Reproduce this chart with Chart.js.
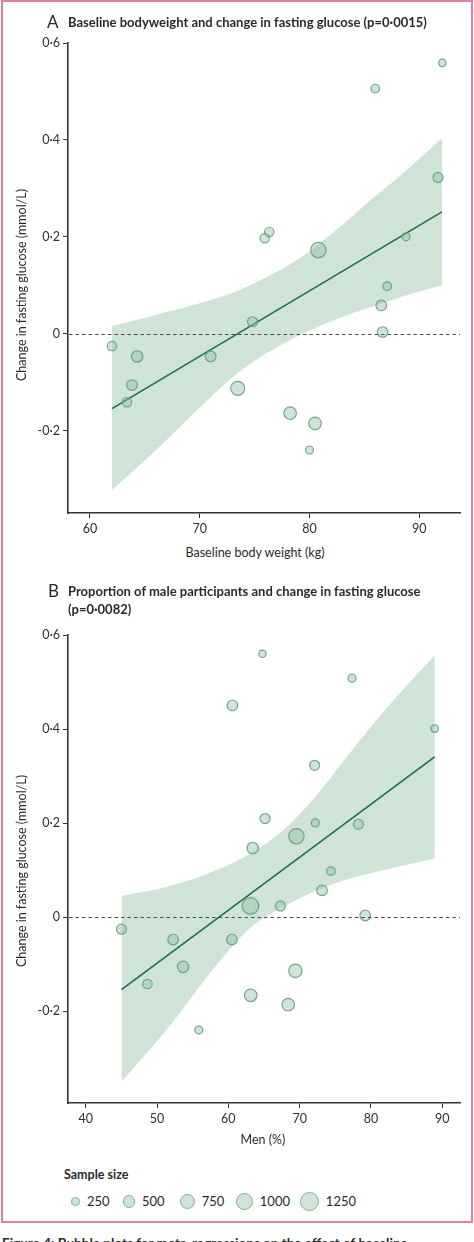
<!DOCTYPE html>
<html><head><meta charset="utf-8">
<script src="https://cdn.jsdelivr.net/npm/chart.js@4/dist/chart.umd.min.js"></script>
<style>
html,body{margin:0;padding:0;background:#fff;}
body{width:474px;height:1242px;position:relative;overflow:hidden;font-family:Lato,'Open Sans',sans-serif;color:#2a2a2a;}
#frame{position:absolute;left:1px;top:0;width:468px;height:1219px;border:2px solid #de7fa3;}
canvas{position:absolute;left:0;}
.t{position:absolute;white-space:nowrap;}
.letter{font-size:17px;font-weight:400;line-height:18px;}
.ttl{font-size:13px;font-weight:700;line-height:18px;}
.ax{font-size:12.5px;line-height:16px;width:300px;text-align:center;}
.rot{transform:rotate(-90deg);transform-origin:50% 50%;}
.lg{font-size:13px;line-height:16px;}
.dot{position:absolute;border-radius:50%;background:#cfe3d7;border:1.3px solid #7fb394;box-sizing:border-box;}
</style></head>
<body>
<div id="frame"></div>
<canvas id="cA" width="474" height="545" style="top:0"></canvas>
<canvas id="cB" width="474" height="555" style="top:580px"></canvas>

<div class="t letter" style="left:47px;top:13px">A</div>
<div class="t ttl" style="left:68px;top:13px">Baseline bodyweight and change in fasting glucose (p=0·0015)</div>
<div class="t ax rot" style="left:-128px;top:277px">Change in fasting glucose (mmol/L)</div>
<div class="t ax" style="left:105px;top:545px">Baseline body weight (kg)</div>

<div class="t letter" style="left:48px;top:582px">B</div>
<div class="t ttl" style="left:68px;top:582px">Proportion of male participants and change in fasting glucose<br>(p=0·0082)</div>
<div class="t ax rot" style="left:-128px;top:863px">Change in fasting glucose (mmol/L)</div>
<div class="t ax" style="left:113px;top:1132px">Men (%)</div>

<div class="t" style="left:64px;top:1167px;font-size:12.5px;font-weight:700;line-height:16px">Sample size</div>
<div id="legend"></div>

<div class="t" style="left:2px;top:1234px;font-size:13.5px;font-weight:700;line-height:18px">Figure 4: Bubble plots for meta-regressions on the effect of baseline</div>

<script>
// ---------- Panel A data ----------
const aWeight = [92.09, 85.98, 91.7, 76.32, 88.78, 75.92, 80.8, 87.07, 86.53, 74.8, 86.65, 62.0, 64.3, 71.0, 63.83, 63.37, 73.46, 78.23, 80.5, 79.99];
const aChange = [0.559, 0.506, 0.3225, 0.210, 0.200, 0.197, 0.1726, 0.098, 0.0585, 0.0247, 0.0035, -0.0254, -0.047, -0.047, -0.106, -0.1415, -0.1126, -0.164, -0.185, -0.240];
const aSize   = [190, 254, 343, 303, 220, 303, 812, 254, 385, 343, 385, 303, 445, 385, 385, 303, 672, 544, 544, 220];
const aFitX   = [62.0, 92.06];
const aFitY   = [-0.1546, 0.2516];
const aBandX  = [62.0, 64.5, 67.0, 70.0, 73.1, 76.1, 79.1, 82.2, 85.2, 88.3, 92.06];
const aBandHi = [0.016, 0.030, 0.045, 0.063, 0.085, 0.117, 0.156, 0.210, 0.269, 0.327, 0.403];
const aBandLo = [-0.322, -0.272, -0.219, -0.152, -0.088, -0.040, -0.003, 0.028, 0.052, 0.076, 0.100];
const aXTicks = [60, 70, 80, 90];

// ---------- Panel B data ----------
const bMen    = [64.78, 77.35, 60.57, 88.95, 72.1, 65.15, 72.2, 78.25, 69.55, 63.42, 74.4, 73.14, 63.1, 67.3, 79.2, 45.0, 52.25, 60.5, 53.65, 48.65, 69.4, 63.14, 68.4, 55.85];
const bChange = [0.560, 0.508, 0.4505, 0.401, 0.323, 0.2097, 0.2004, 0.1976, 0.172, 0.147, 0.098, 0.057, 0.024, 0.024, 0.0036, -0.0255, -0.0475, -0.0475, -0.1055, -0.142, -0.114, -0.166, -0.186, -0.240];
const bSize   = [188, 220, 385, 188, 343, 343, 220, 343, 812, 445, 254, 385, 945, 343, 385, 343, 385, 385, 445, 303, 615, 544, 544, 220];
const bFitX   = [45.0, 88.95];
const bFitY   = [-0.154, 0.341];
const bBandX  = [45.0, 51.3, 58.3, 63.0, 67.7, 72.35, 77.0, 81.7, 88.95];
const bBandHi = [0.045, 0.064, 0.100, 0.135, 0.185, 0.259, 0.348, 0.436, 0.557];
const bBandLo = [-0.350, -0.240, -0.102, -0.024, 0.022, 0.057, 0.082, 0.100, 0.125];
const bXTicks = [40, 50, 60, 70, 80, 90];

const yTicks = [0.6, 0.4, 0.2, 0, -0.2];
const legendSizes = [250, 500, 750, 1000, 1250];

const RK = 0.27; // px radius per sqrt(sample size)
const rad = n => RK * Math.sqrt(n);
const fmt = v => (v === 0 ? '0' : String(Math.round(v * 10) / 10).replace('.', '·'));

Chart.defaults.font.family = 'Lato, "Open Sans", sans-serif';
Chart.defaults.color = '#2f2f2f';

const zeroLine = {
  id: 'zeroLine',
  afterDatasetsDraw(chart) {
    const { ctx, chartArea: a, scales: { y } } = chart;
    const py = Math.round(y.getPixelForValue(0)) + 0.5;
    ctx.save();
    ctx.setLineDash([3.5, 3]);
    ctx.strokeStyle = '#4d4d4d';
    ctx.lineWidth = 1.2;
    ctx.beginPath(); ctx.moveTo(a.left + 1, py); ctx.lineTo(a.right, py); ctx.stroke();
    ctx.restore();
  }
};

function build(id, xs, ys, ns, fitX, fitY, bandX, bandLo, bandHi, xTicks, xMin, xMax, yMin, padTop, axH) {
  const pts = (X, Y) => X.map((x, i) => ({ x, y: Y[i] }));
  new Chart(document.getElementById(id), {
    type: 'bubble',
    data: {
      datasets: [
        { type: 'scatter', data: pts(bandX, bandLo), showLine: true, borderWidth: 0, pointRadius: 0,
          cubicInterpolationMode: 'monotone', fill: false, order: 4, borderColor: 'rgba(0,0,0,0)' },
        { type: 'scatter', data: pts(bandX, bandHi), showLine: true, borderWidth: 0, pointRadius: 0,
          cubicInterpolationMode: 'monotone', fill: '-1', backgroundColor: '#cfe3d7', order: 3, borderColor: 'rgba(0,0,0,0)' },
        { type: 'scatter', data: pts(fitX, fitY), showLine: true, borderWidth: 1.6, borderColor: '#1f6e43',
          pointRadius: 0, fill: false, order: 2 },
        { type: 'bubble', data: xs.map((x, i) => ({ x, y: ys[i], r: rad(ns[i]) })),
          backgroundColor: 'rgba(140,190,162,0.42)', borderColor: 'rgba(95,155,120,0.85)', borderWidth: 1.2,
          order: 1, clip: false }
      ]
    },
    options: {
      responsive: false, animation: false, events: [],
      layout: { padding: { top: padTop, right: 14, left: 0, bottom: 0 } },
      plugins: { legend: { display: false }, tooltip: { enabled: false } },
      scales: {
        x: {
          type: 'linear', min: xMin, max: xMax,
          afterBuildTicks: s => { s.ticks = xTicks.map(v => ({ value: v })); },
          afterFit: s => { s.height = axH; },
          ticks: { font: { size: 12.5 }, padding: 3, callback: v => String(v) },
          grid: { display: true, drawOnChartArea: false, drawTicks: true, tickLength: 5, color: '#333', lineWidth: 1 },
          border: { display: true, color: '#333', width: 1.6 }
        },
        y: {
          type: 'linear', min: yMin, max: 0.6,
          afterBuildTicks: s => { s.ticks = yTicks.map(v => ({ value: v })); },
          afterFit: s => { s.width = 68; },
          ticks: { font: { size: 12.5 }, padding: 3, callback: v => fmt(v) },
          grid: { display: true, drawOnChartArea: false, drawTicks: true, tickLength: 5, color: '#333', lineWidth: 1 },
          border: { display: true, color: '#333', width: 1.6 }
        }
      }
    },
    plugins: [zeroLine]
  });
}

build('cA', aWeight, aChange, aSize, aFitX, aFitY, aBandX, aBandLo, aBandHi, aXTicks, 58.0, 93.7, -0.37, 43, 32);
build('cB', bMen, bChange, bSize, bFitX, bFitY, bBandX, bBandLo, bBandHi, bXTicks, 37.5, 92.5, -0.395, 55, 32);

// legend
const lgX = [75.7, 129, 187.3, 244.3, 309.3];
const lg = document.getElementById('legend');
legendSizes.forEach((n, i) => {
  const r = rad(n);
  const d = document.createElement('div');
  d.className = 'dot';
  d.style.width = d.style.height = (2 * r) + 'px';
  d.style.left = (lgX[i] - r) + 'px';
  d.style.top = (1201.5 - r) + 'px';
  lg.appendChild(d);
  const t = document.createElement('div');
  t.className = 't lg';
  t.textContent = String(n);
  t.style.left = (lgX[i] + r + 7) + 'px';
  t.style.top = '1193px';
  lg.appendChild(t);
});
</script>
</body></html>
